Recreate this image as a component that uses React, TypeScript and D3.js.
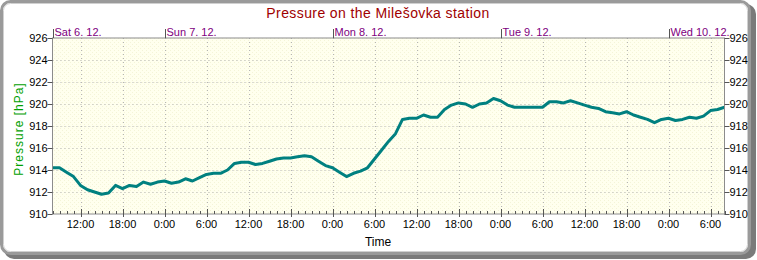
import React from "react";
import * as d3 from "d3";

// hours since Sat 6.12. 08:00, hourly readings
const hours: number[] = Array.from({ length: 97 }, (_, i) => i);
const pressure: number[] = [
  914.2, 914.2, 913.8, 913.4, 912.6, 912.2, 912.0, 911.8, 911.9, 912.6,
  912.3, 912.6, 912.5, 912.9, 912.7, 912.9, 913.0, 912.8, 912.9, 913.2,
  913.0, 913.3, 913.6, 913.7, 913.7, 914.0, 914.6, 914.7, 914.7, 914.5,
  914.6, 914.8, 915.0, 915.1, 915.1, 915.2, 915.3, 915.2, 914.8, 914.4,
  914.2, 913.8, 913.4, 913.7, 913.9, 914.2, 915.0, 915.8, 916.6, 917.3,
  918.6, 918.7, 918.7, 919.0, 918.8, 918.8, 919.5, 919.9, 920.1, 920.0,
  919.7, 920.0, 920.1, 920.5, 920.3, 919.9, 919.7, 919.7, 919.7, 919.7,
  919.7, 920.2, 920.2, 920.1, 920.3, 920.1, 919.9, 919.7, 919.6, 919.3,
  919.2, 919.1, 919.3, 919.0, 918.8, 918.6, 918.3, 918.6, 918.7, 918.5,
  918.6, 918.8, 918.7, 918.9, 919.4, 919.5, 919.7,
];
const dayLabels: string[] = ["Sat 6. 12.", "Sun 7. 12.", "Mon 8. 12.", "Tue 9. 12.", "Wed 10. 12."];
const dayStartHours: number[] = [0, 16, 40, 64, 88];
const yTicks: number[] = [910, 912, 914, 916, 918, 920, 922, 924, 926];
const startClock = 8; // first hour is 08:00

export default function App() {
  const W = 757, H = 260;
  const L = 52.5, R = 724.5, T = 38, B = 214;
  const x = d3.scaleLinear().domain([0, 96]).range([L, R]);
  const y = d3.scaleLinear().domain([910, 926]).range([B, T]);
  const line = d3.line<number>().x((_, i) => x(hours[i])).y((d) => y(d));
  const sixHours = hours.filter((h) => (h + startClock) % 6 === 0);
  const font = "'Liberation Sans', Arial, sans-serif";
  return (
    <svg width={W} height={H} style={{ position: "absolute", left: 0, top: 0 }} fontFamily={font}>
      <defs>
        <pattern id="bg" width="4" height="4" patternUnits="userSpaceOnUse">
          <rect width="4" height="4" fill="#FFFFEE" />
          <rect x="0" y="0" width="1" height="1" fill="#F4F4D8" />
          <rect x="2" y="2" width="1" height="1" fill="#F4F4D8" />
        </pattern>
      </defs>
      <rect x={0} y={0} width={W} height={H} fill="#fff" />
      <rect x={4} y={4} width={752} height={255} rx={10} fill="#7a7a7a" />
      <rect x={1.5} y={1.5} width={748} height={252} rx={9} fill="#fff" stroke="#9a9a9a" strokeWidth={3} />
      <rect x={3.5} y={3.5} width={744} height={248} rx={7} fill="none" stroke="#d0d0d0" strokeWidth={1} />
      <text x={378} y={18} textAnchor="middle" fill="#A00000" fontSize={14} letterSpacing={0.4}>
        Pressure on the Milešovka station
      </text>
      <rect x={L} y={T} width={R - L} height={B - T} fill="url(#bg)" />
      {yTicks.slice(1, -1).map((t) => (
        <line key={"gy" + t} x1={L} x2={R} y1={Math.round(y(t)) + 0.5} y2={Math.round(y(t)) + 0.5} stroke="#b4b4b4" strokeDasharray="1 3" />
      ))}
      {sixHours.filter((h) => h > 0 && h < 96).map((h) => (
        <line key={"gx" + h} x1={Math.round(x(h)) + 0.5} x2={Math.round(x(h)) + 0.5} y1={T} y2={B} stroke="#b4b4b4" strokeDasharray="1 3" />
      ))}
      <path d={line(pressure) || ""} fill="none" stroke="#008080" strokeWidth={3} strokeLinejoin="round" />
      {/* frame */}
      <rect x={L} y={T} width={R - L} height={B - T} fill="none" stroke="#8c8c8c" strokeWidth={1} />
      {/* y ticks */}
      {yTicks.map((t) => (
        <g key={"yt" + t}>
          <line x1={L - 5} x2={L} y1={Math.round(y(t)) + 0.5} y2={Math.round(y(t)) + 0.5} stroke="#555" />
          <line x1={R} x2={R + 5} y1={Math.round(y(t)) + 0.5} y2={Math.round(y(t)) + 0.5} stroke="#555" />
          <text x={L - 5} y={y(t) + 4} textAnchor="end" fontSize={11} fill="#000">{t}</text>
          <text x={R + 5} y={y(t) + 4} textAnchor="start" fontSize={11} fill="#000">{t}</text>
        </g>
      ))}
      {/* x minor ticks */}
      {hours.map((h) => (
        <line key={"xm" + h} x1={Math.round(x(h)) + 0.5} x2={Math.round(x(h)) + 0.5} y1={B - ((h + startClock) % 6 === 0 ? 5 : 3)} y2={B} stroke="#555" />
      ))}
      {sixHours.filter((h) => h > 0 && h < 96).map((h) => (
        <g key={"xl" + h}>
          <line x1={Math.round(x(h)) + 0.5} x2={Math.round(x(h)) + 0.5} y1={B} y2={B + 3} stroke="#555" />
          <text x={x(h)} y={228} textAnchor="middle" fontSize={11} fill="#000">
            {`${(h + startClock) % 24}:00`}
          </text>
        </g>
      ))}
      {/* day labels */}
      {dayStartHours.map((h, i) => (
        <g key={"d" + i}>
          <line x1={Math.round(x(h)) + 0.5} x2={Math.round(x(h)) + 0.5} y1={T - 9} y2={T} stroke="#555" />
          <text x={x(h) + 2} y={36} fontSize={11} fill="#800080">{dayLabels[i]}</text>
        </g>
      ))}
      <text transform={`translate(23,129) rotate(-90)`} textAnchor="middle" fontSize={12} fill="#00A000" letterSpacing={1}>
        Pressure [hPa]
      </text>
      <text x={378} y={246} textAnchor="middle" fontSize={12} fill="#000">Time</text>
    </svg>
  );
}
